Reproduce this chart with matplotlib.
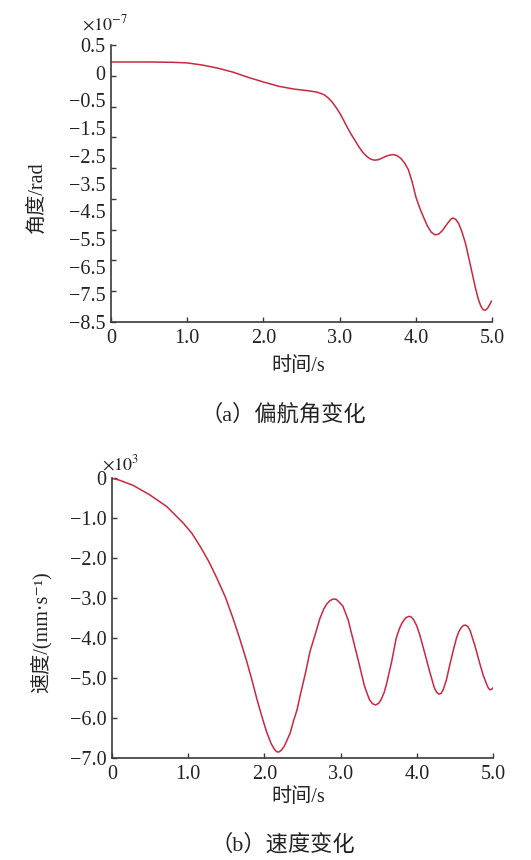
import matplotlib
matplotlib.use('Agg')
import matplotlib.pyplot as plt

plt.rcParams['font.family'] = ['Liberation Serif', 'Noto Sans CJK SC', 'DejaVu Serif']
plt.rcParams['mathtext.fontset'] = 'stix'
plt.rcParams['axes.unicode_minus'] = True

# (a) 偏航角变化, y in axis units (x10^-7)
t_a = [0.0, 0.5, 0.8, 1.0, 1.2, 1.4, 1.6, 1.8, 2.0, 2.2, 2.4, 2.5, 2.6, 2.7, 2.75, 2.8,
       2.85, 2.9, 2.95, 3.0, 3.05, 3.1, 3.15, 3.2, 3.25, 3.3, 3.35, 3.4, 3.45, 3.5,
       3.55, 3.6, 3.65, 3.7, 3.75, 3.8, 3.85, 3.9, 3.95, 4.0, 4.05, 4.1, 4.15, 4.2,
       4.25, 4.3, 4.35, 4.4, 4.45, 4.48, 4.52, 4.56, 4.6, 4.65, 4.7, 4.74, 4.78, 4.82,
       4.85, 4.88, 4.91, 4.94, 4.97, 4.99]
yaw = [-0.05, -0.05, -0.06, -0.08, -0.15, -0.25, -0.38, -0.55, -0.70, -0.84, -0.93,
       -0.96, -0.99, -1.03, -1.07, -1.12, -1.22, -1.35, -1.52, -1.71, -1.94, -2.18,
       -2.40, -2.60, -2.80, -2.98, -3.11, -3.20, -3.24, -3.23, -3.18, -3.12, -3.08,
       -3.06, -3.09, -3.18, -3.33, -3.55, -3.95, -4.45, -4.80, -5.10, -5.38, -5.58,
       -5.67, -5.64, -5.52, -5.34, -5.18, -5.12, -5.16, -5.30, -5.55, -5.95, -6.50,
       -6.95, -7.40, -7.78, -7.98, -8.10, -8.12, -8.05, -7.92, -7.82]
yticks_a = [0.5, -0.5, -1.5, -2.5, -3.5, -4.5, -5.5, -6.5, -7.5, -8.5]
ylabel_pos_a = [0.5, -0.4, -1.3, -2.2, -3.1, -4.0, -4.9, -5.8, -6.7, -7.6, -8.5]
ylabels_a = ['0.5', '0', '\u22120.5', '\u22121.5', '\u22122.5', '\u22123.5', '\u22124.5',
             '\u22125.5', '\u22126.5', '\u22127.5', '\u22128.5']

# (b) 速度变化, y in x10^3 mm/s
t_b = [0.0, 0.1, 0.28, 0.5, 0.72, 0.94, 1.05, 1.16, 1.27, 1.38, 1.49, 1.59, 1.68,
       1.77, 1.84, 1.90, 1.97, 2.03, 2.09, 2.13, 2.16, 2.19, 2.22, 2.26, 2.29, 2.34,
       2.38, 2.43, 2.47, 2.54, 2.60, 2.67, 2.73, 2.78, 2.82, 2.86, 2.90, 2.94, 2.97,
       3.03, 3.10, 3.16, 3.24, 3.31, 3.35, 3.38, 3.42, 3.46, 3.50, 3.53, 3.57, 3.60,
       3.67, 3.73, 3.77, 3.80, 3.83, 3.86, 3.90, 3.93, 3.96, 4.00, 4.04, 4.10, 4.17,
       4.23, 4.26, 4.29, 4.32, 4.35, 4.39, 4.43, 4.48, 4.52, 4.55, 4.58, 4.61, 4.64,
       4.67, 4.70, 4.76, 4.82, 4.87, 4.92, 4.94, 4.96, 4.98, 5.00]
speed = [0.0, -0.05, -0.18, -0.42, -0.71, -1.13, -1.38, -1.71, -2.08, -2.51, -2.98,
         -3.51, -4.03, -4.59, -5.07, -5.51, -5.98, -6.35, -6.65, -6.78, -6.85, -6.86,
         -6.82, -6.72, -6.60, -6.38, -6.10, -5.80, -5.45, -4.88, -4.34, -3.90, -3.51,
         -3.28, -3.15, -3.07, -3.03, -3.03, -3.08, -3.20, -3.55, -4.01, -4.62, -5.18,
         -5.40, -5.55, -5.65, -5.68, -5.64, -5.55, -5.38, -5.18, -4.60, -4.01, -3.78,
         -3.65, -3.56, -3.49, -3.46, -3.48, -3.55, -3.70, -3.93, -4.35, -4.85, -5.25,
         -5.36, -5.41, -5.39, -5.28, -5.04, -4.70, -4.30, -4.01, -3.85, -3.75, -3.69,
         -3.68, -3.72, -3.82, -4.18, -4.60, -4.93, -5.18, -5.26, -5.30, -5.29, -5.25]
yticks_b = [0, -1, -2, -3, -4, -5, -6, -7]
ylabels_b = ['0', '\u22121.0', '\u22122.0', '\u22123.0', '\u22124.0', '\u22125.0',
             '\u22126.0', '\u22127.0']

xticks = [0, 1, 2, 3, 4, 5]
xlabels = ['0', '1.0', '2.0', '3.0', '4.0', '5.0']

line_color = '#c9283f'
axis_color = '#3a3a3a'
text_color = '#222222'
tick_fs = 14.5

fig = plt.figure(figsize=(5.31, 8.6), dpi=100)


def style_axes(ax):
    for s in ['top', 'right']:
        ax.spines[s].set_visible(False)
    for s in ['left', 'bottom']:
        ax.spines[s].set_color(axis_color)
        ax.spines[s].set_linewidth(1.2)
    ax.tick_params(which='both', direction='in', color=axis_color, width=1.0,
                   labelsize=tick_fs, labelcolor=text_color)
    ax.tick_params(which='major', length=3.5)
    ax.tick_params(axis='x', pad=5)
    ax.set_xlim(0, 5)
    ax.set_xticks(xticks, xlabels)
    ax.set_xlabel('时间/s', fontsize=14.5, color=text_color)


# 上图
ax1 = fig.add_axes([0.209, 0.6256, 0.718, 0.322])
ax1.plot(t_a, yaw, color=line_color, lw=1.1)
style_axes(ax1)
ax1.set_ylim(-8.5, 0.5)
ax1.yaxis.remove_overlapping_locs = False
ax1.set_yticks(yticks_a, [''] * len(yticks_a))
ax1.set_yticks(ylabel_pos_a, ylabels_a, minor=True)
ax1.tick_params(axis='y', which='minor', length=0, pad=4)
ax1.set_ylabel('角度/rad', fontsize=14.5, color=text_color)
ax1.xaxis.set_label_coords(0.49, -0.125)
ax1.yaxis.set_label_coords(-0.168, 0.45)
ax1.text(-0.075, 1.075, r'$\times10^{-7}$', transform=ax1.transAxes, fontsize=13,
         ha='left', va='center', color=text_color)
fig.text(0.533, 0.517, '（a）偏航角变化', ha='center', va='center', fontsize=16,
         color=text_color)

# 下图
ax2 = fig.add_axes([0.2105, 0.119, 0.718, 0.325])
ax2.plot(t_b, speed, color=line_color, lw=1.1)
style_axes(ax2)
ax2.set_ylim(-7, 0)
ax2.set_yticks(yticks_b, ylabels_b)
ax2.tick_params(axis='y', pad=4)
ax2.set_ylabel('速度/(mm·s\u207b\u00b9)', fontsize=14.5, color=text_color)
ax2.xaxis.set_label_coords(0.49, -0.107)
ax2.yaxis.set_label_coords(-0.157, 0.45)
ax2.text(-0.025, 1.05, r'$\times10^{3}$', transform=ax2.transAxes, fontsize=13,
         ha='left', va='center', color=text_color)
fig.text(0.533, 0.018, '（b）速度变化', ha='center', va='center', fontsize=16,
         color=text_color)

fig.savefig('out.png', dpi=100, facecolor='white')
